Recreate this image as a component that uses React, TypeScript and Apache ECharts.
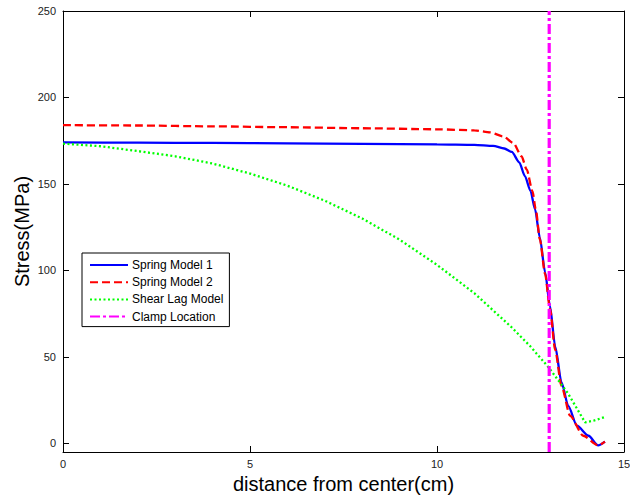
import React, { useEffect, useRef } from "react";
import * as echarts from "echarts";

const spring1X = [0, 2, 4, 6, 8, 10, 11, 11.5, 11.8, 12, 12.2, 12.35, 12.5, 12.62, 12.75, 12.89, 13.02, 13.16, 13.33, 13.51, 13.74, 14.05, 14.31, 14.49];
const spring1Y = [174, 173.9, 173.7, 173.5, 173.2, 172.9, 172.6, 172, 170.5, 168.5, 162.5, 154.5, 146, 135.5, 119, 99, 79.5, 56, 35.2, 21.7, 10.2, 4.4, -1.2, 1];

const spring2X = [0, 2, 4, 6, 8, 10, 11, 11.42, 11.77, 12.04, 12.26, 12.4, 12.55, 12.64, 12.75, 12.89, 13.02, 13.16, 13.33, 13.56, 13.91, 14.31, 14.49];
const spring2Y = [184, 183.8, 183.3, 182.8, 182.2, 181.6, 181, 179.8, 177.5, 173.7, 166, 158.3, 146, 135.5, 118, 98, 78, 54, 33, 15.9, 4.4, -1.2, 1];

const shearX = [0, 1, 2, 3, 4, 5, 6, 7, 8, 9, 10, 11, 12, 12.5, 13, 13.5, 13.96, 14.2, 14.5];
const shearY = [173.3, 171.8, 169, 166, 161.8, 156, 149, 140.3, 130, 117.8, 103.2, 86.8, 67, 56, 43.5, 29, 12.1, 13.2, 15.3];

const clampX = 13;
const xTicks = [0, 5, 10, 15];
const yTicks = [0, 50, 100, 150, 200, 250];
const yMin = -5;
const yMax = 250;

const zip = (xs: number[], ys: number[]) => xs.map((x, i) => [x, ys[i]]);

export default function App() {
  const ref = useRef<HTMLDivElement>(null);
  useEffect(() => {
    if (!ref.current) return;
    const chart = echarts.init(ref.current, undefined, { renderer: "svg" });
    const font = "Liberation Sans, Arial, Helvetica, sans-serif";
    const axisLine = { show: true, onZero: false, lineStyle: { color: "#000", width: 1 } };
    const tick = { show: true, inside: true, length: 6, lineStyle: { color: "#000" } };
    chart.setOption({
      animation: false,
      backgroundColor: "#fff",
      textStyle: { fontFamily: font },
      grid: { left: 63, right: 6, top: 11, bottom: 48, containLabel: false, outerBoundsMode: "none" },
      legend: {
        orient: "vertical",
        left: 82,
        top: 253,
        padding: [6, 6, 4, 7],
        itemGap: 5.2,
        itemWidth: 38,
        itemHeight: 14,
        backgroundColor: "#fff",
        borderColor: "#000",
        borderWidth: 1,
        borderRadius: 0,
        itemStyle: { color: "transparent", borderColor: "transparent", borderWidth: 0, opacity: 0 },
        textStyle: { fontFamily: font, fontSize: 12, color: "#000", padding: [0, 0, 0, -1] },
        data: ["Spring Model 1", "Spring Model 2", "Shear Lag Model", "Clamp Location"],
      },
      xAxis: [
        {
          type: "value",
          min: 0,
          max: 15,
          interval: 5,
          position: "bottom",
          axisLine,
          splitLine: { show: false },
          name: "distance from center(cm)",
          nameLocation: "middle",
          nameGap: 22,
          nameMoveOverlap: false,
          nameTextStyle: { fontFamily: font, fontSize: 20, color: "#000" },
          axisLabel: { show: true, margin: 6, fontSize: 11, color: "#222", fontFamily: font, customValues: xTicks },
          axisTick: { ...tick, customValues: xTicks },
        },
        {
          type: "value",
          min: 0,
          max: 15,
          interval: 5,
          position: "top",
          axisLine,
          splitLine: { show: false },
          axisLabel: { show: false },
          axisTick: { ...tick, customValues: xTicks },
        },
      ],
      yAxis: [
        {
          type: "value",
          min: yMin,
          max: yMax,
          position: "left",
          axisLine,
          splitLine: { show: false },
          name: "Stress(MPa)",
          nameLocation: "middle",
          nameGap: 31,
          nameMoveOverlap: false,
          nameTextStyle: { fontFamily: font, fontSize: 20, color: "#000" },
          axisLabel: { show: true, margin: 7, fontSize: 11, color: "#222", fontFamily: font, customValues: yTicks },
          axisTick: { ...tick, customValues: yTicks },
        },
        {
          type: "value",
          min: yMin,
          max: yMax,
          position: "right",
          axisLine,
          splitLine: { show: false },
          axisLabel: { show: false },
          axisTick: { ...tick, customValues: yTicks },
        },
      ],
      series: [
        {
          name: "Spring Model 1",
          type: "line",
          data: zip(spring1X, spring1Y),
          showSymbol: false,
          symbol: "none",
          smooth: 0.25,
          smoothMonotone: "x",
          lineStyle: { color: "#0000ff", width: 2.3, type: "solid" },
          itemStyle: { color: "#0000ff" },
        },
        {
          name: "Spring Model 2",
          type: "line",
          data: zip(spring2X, spring2Y),
          showSymbol: false,
          symbol: "none",
          smooth: 0.25,
          smoothMonotone: "x",
          lineStyle: { color: "#ff0000", width: 2.3, type: [8, 4] },
          itemStyle: { color: "#ff0000" },
        },
        {
          name: "Shear Lag Model",
          type: "line",
          data: zip(shearX, shearY),
          showSymbol: false,
          symbol: "none",
          lineStyle: { color: "#00ff00", width: 2.3, type: [2, 2.5] },
          itemStyle: { color: "#00ff00" },
        },
        {
          name: "Clamp Location",
          type: "line",
          data: [
            [clampX, yMin],
            [clampX, yMax],
          ],
          showSymbol: false,
          symbol: "none",
          lineStyle: { color: "#ff00ff", width: 3.2, type: [10, 3, 3, 3] },
          itemStyle: { color: "#ff00ff" },
        },
      ],
    });
    return () => chart.dispose();
  }, []);
  return <div ref={ref} style={{ position: "fixed", left: 0, top: 0, width: 630, height: 500 }} />;
}
